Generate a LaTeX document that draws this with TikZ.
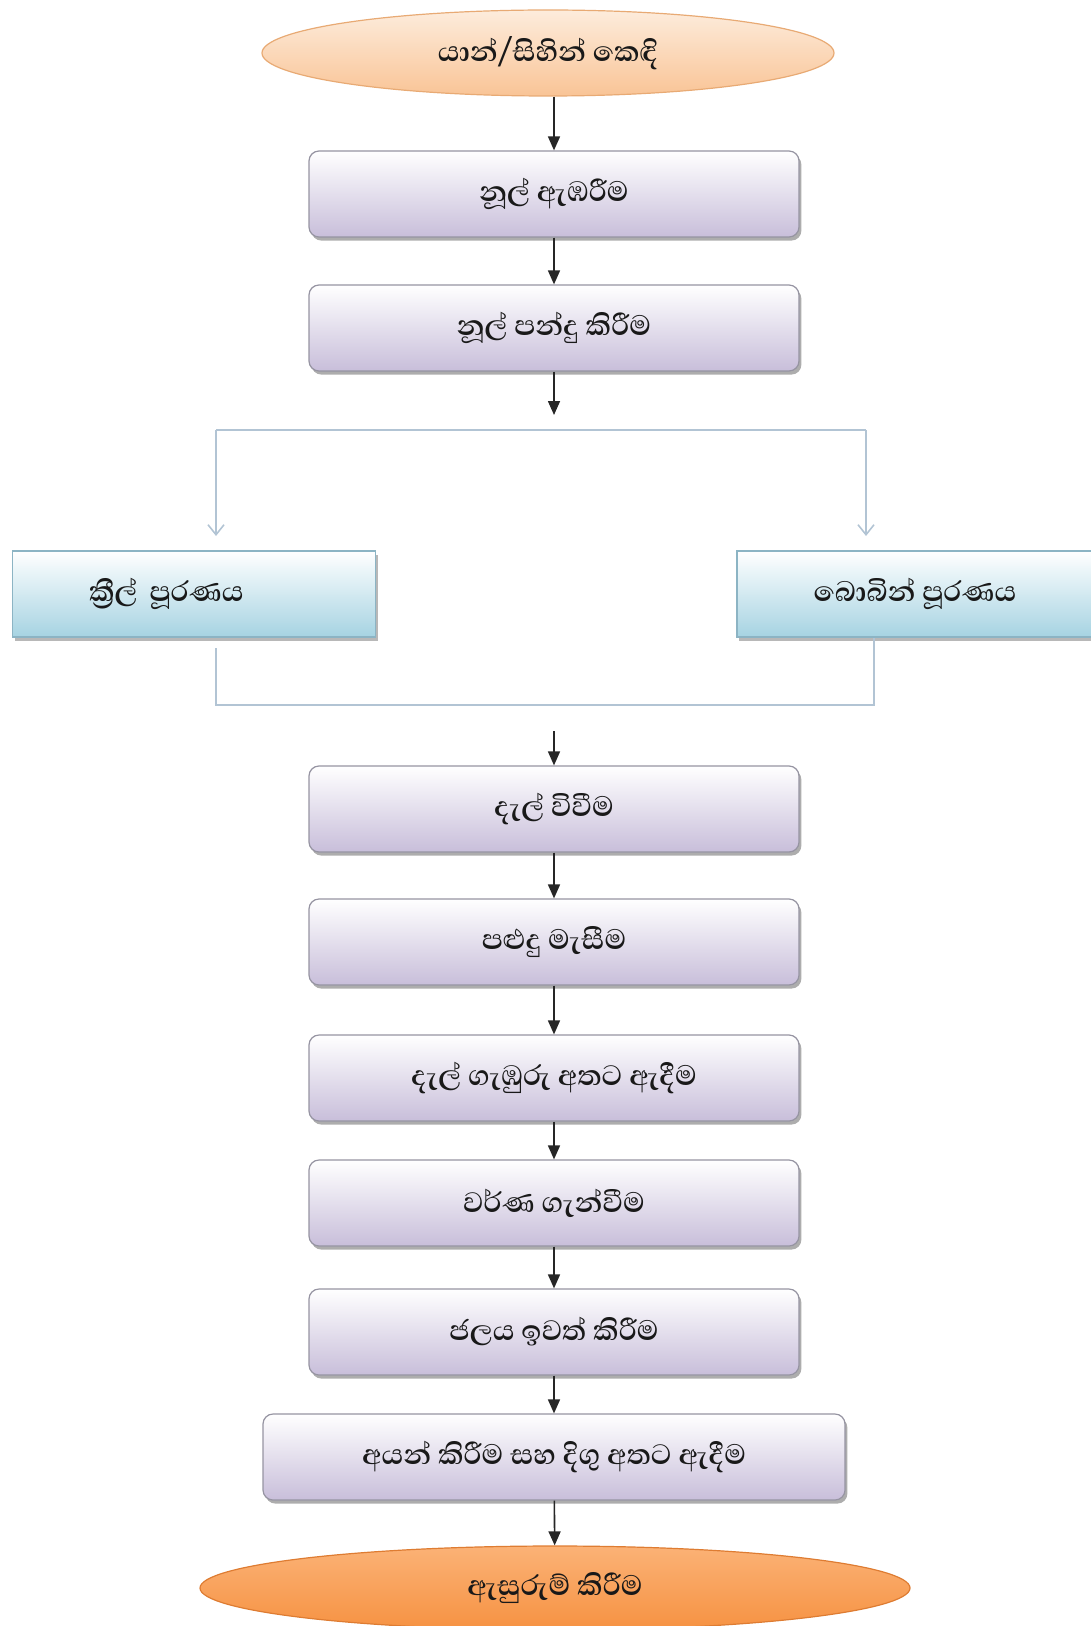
\documentclass[tikz,border=0pt]{standalone}
\usepackage{fontspec}
\newfontfamily\sinhala[Script=Sinhala]{Abhaya Libre}
\usetikzlibrary{shapes.geometric}
\usetikzlibrary{shadows}
\usetikzlibrary{arrows.meta}
\usetikzlibrary{positioning}

\definecolor{boxlav}{RGB}{200,190,218}
\definecolor{boxedge}{RGB}{150,148,162}
\definecolor{sideblue}{RGB}{166,211,226}
\definecolor{sideedge}{RGB}{140,180,196}
\definecolor{peachtop}{RGB}{253,236,220}
\definecolor{peachbot}{RGB}{249,196,150}
\definecolor{peachedge}{RGB}{232,170,116}
\definecolor{orangetop}{RGB}{251,178,118}
\definecolor{orangebot}{RGB}{246,146,66}
\definecolor{orangeedge}{RGB}{222,124,50}
\definecolor{branchcol}{RGB}{178,196,212}

\tikzset{
  sitext/.style={font=\sinhala\bfseries\fontsize{18}{21}\selectfont, text=black!90},
  procbox/.style={sitext, rectangle, rounded corners=5pt, draw=boxedge, line width=0.6pt,
    top color=white, bottom color=boxlav, minimum width=245pt, minimum height=43pt,
    drop shadow={shadow xshift=1.2pt, shadow yshift=-1.8pt, fill=gray!80, opacity=0.8}},
  sidebox/.style={sitext, rectangle, draw=sideedge, line width=0.6pt,
    top color=white, bottom color=sideblue, minimum width=178pt, minimum height=43pt,
    drop shadow={shadow xshift=1.2pt, shadow yshift=-1.8pt, fill=gray!70, opacity=0.8}},
  startoval/.style={sitext, ellipse, draw=peachedge, line width=0.6pt, inner sep=0pt,
    top color=peachtop, bottom color=peachbot, minimum width=286pt, minimum height=43pt},
  endoval/.style={sitext, ellipse, draw=orangeedge, line width=0.6pt, inner sep=0pt,
    top color=orangetop, bottom color=orangebot, minimum width=355pt, minimum height=42pt},
  flowarrow/.style={-{Triangle[length=7pt,width=6pt]}, line width=0.8pt, black!85},
  branchline/.style={draw=branchcol, line width=0.8pt},
  brancharrow/.style={branchline, -{Straight Barb[length=5pt,width=8pt]}}
}

\begin{document}
\begin{tikzpicture}[x=0.5pt, y=-0.5pt]
    \useasboundingbox (0,0) rectangle (1091,1626);

    % main column
    \node[startoval] (yarn) at (548,53) {යාන්/සිහින් කෙඳි};
    \node[procbox] (twist) at (554,194) {නූල් ඇඹරීම};
    \node[procbox] (ball) at (554,328) {නූල් පන්දු කිරීම};
    \node[sidebox, minimum width=181.5pt, text width=105pt, inner xsep=38pt, align=left] (creel) at (194,594) {ක්‍රීල් පූරණය};
    \node[sidebox] (bobbin) at (915,594) {බොබින් පූරණය};
    \node[procbox] (weave) at (554,809) {දැල් විවීම};
    \node[procbox] (mend) at (554,942) {පළුදු මැසීම};
    \node[procbox] (depth) at (554,1078) {දැල් ගැඹුරු අතට ඇදීම};
    \node[procbox] (dye) at (554,1203) {වර්ණ ගැන්වීම};
    \node[procbox] (dry) at (554,1332) {ජලය ඉවත් කිරීම};
    \node[procbox, minimum width=291pt] (iron) at (554,1457) {අයන් කිරීම සහ දිගු අතට ඇදීම};
    \node[endoval] (pack) at (555,1588) {ඇසුරුම් කිරීම};

    % branch points
    \coordinate (split) at (554,415);
    \coordinate (splitL) at (216,430);
    \coordinate (splitR) at (866,430);
    \coordinate (creelIn) at (216,536);
    \coordinate (bobbinIn) at (866,536);
    \coordinate (creelOut) at (216,648);
    \coordinate (bobbinOut) at (874,638);
    \coordinate (mergeL) at (216,705);
    \coordinate (mergeR) at (874,705);
    \coordinate (merge) at (554,731);

    \draw[flowarrow] (yarn.south -| twist.north) -- (twist);
    \draw[flowarrow] (twist) -- (ball);
    \draw[flowarrow] (ball) -- (split);

    \draw[branchline] (splitL) -- (splitR);
    \draw[brancharrow] (splitL) -- (creelIn);
    \draw[brancharrow] (splitR) -- (bobbinIn);
    \draw[branchline] (creelOut) -- (mergeL) -- (mergeR) -- (bobbinOut);

    \draw[flowarrow] (merge) -- (weave);
    \draw[flowarrow] (weave) -- (mend);
    \draw[flowarrow] (mend) -- (depth);
    \draw[flowarrow] (depth) -- (dye);
    \draw[flowarrow] (dye) -- (dry);
    \draw[flowarrow] (dry) -- (iron);
    \draw[flowarrow] (iron) -- (pack);
\end{tikzpicture}
\end{document}
